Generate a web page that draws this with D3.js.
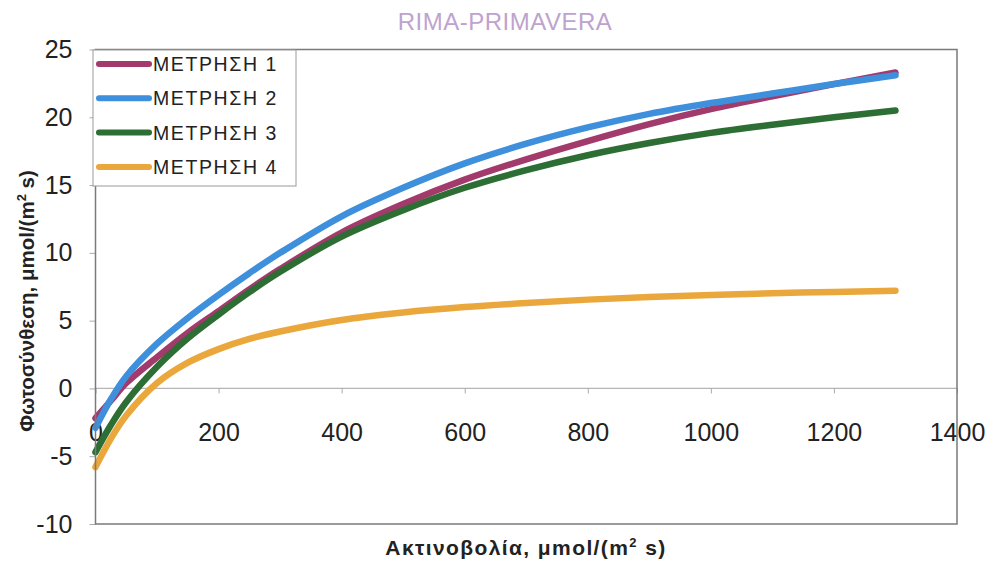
<!DOCTYPE html>
<html><head><meta charset="utf-8">
<script src="https://cdn.jsdelivr.net/npm/d3@7"></script>
<style>body{margin:0;background:#fff;} svg{display:block;font-family:"Liberation Sans",Arial,sans-serif;}</style>
</head><body>
<svg id="chart" width="992" height="562"></svg>
<script>
const xValues = [0, 25, 50, 100, 150, 200, 250, 300, 400, 500, 600, 700, 800, 900, 1000, 1100, 1200, 1300];
const seriesNames = ["ΜΕΤΡΗΣΗ 1", "ΜΕΤΡΗΣΗ 2", "ΜΕΤΡΗΣΗ 3", "ΜΕΤΡΗΣΗ 4"];
const metrisi1 = [-2.2, -0.9, 0.4, 2.3, 4.1, 5.7, 7.3, 8.8, 11.5, 13.6, 15.4, 16.9, 18.25, 19.5, 20.6, 21.55, 22.45, 23.3];
const metrisi2 = [-2.9, -0.8, 0.9, 3.3, 5.2, 6.9, 8.5, 10.0, 12.7, 14.8, 16.6, 18.05, 19.25, 20.25, 21.05, 21.75, 22.45, 23.1];
const metrisi3 = [-4.7, -2.7, -1.0, 1.6, 3.7, 5.45, 7.1, 8.6, 11.2, 13.15, 14.8, 16.1, 17.2, 18.1, 18.85, 19.45, 20.0, 20.5];
const metrisi4 = [-5.8, -3.7, -2.0, 0.4, 1.9, 2.9, 3.65, 4.2, 5.05, 5.6, 6.0, 6.3, 6.55, 6.75, 6.9, 7.02, 7.12, 7.2];
const seriesColors = ["#a23a6c", "#3e8fdc", "#2d6e35", "#eaa73c"];
const xTicks = [0, 200, 400, 600, 800, 1000, 1200, 1400];
const yTicks = [-10, -5, 0, 5, 10, 15, 20, 25];
const chartTitle = "RIMA-PRIMAVERA";

const allSeries = [metrisi1, metrisi2, metrisi3, metrisi4];
const svg = d3.select("#chart");
const L = 95.5, R = 957, T = 49.5, B = 524;
const x = d3.scaleLinear().domain([0, 1400]).range([L, R]);
const y = d3.scaleLinear().domain([-10, 25]).range([B, T]);
const fmt = d => String(d);

// title
svg.append("text").attr("x", 505).attr("y", 30).attr("text-anchor", "middle")
  .attr("font-size", 24).attr("fill", "#bea3cf").attr("letter-spacing", 0.5).text(chartTitle);

// zero line
svg.append("line").attr("x1", L).attr("x2", R).attr("y1", y(0)).attr("y2", y(0))
  .attr("stroke", "#b5b5b5").attr("stroke-width", 1.2);

// y axis
const ya = svg.append("g").attr("transform", `translate(${L},0)`)
  .call(d3.axisLeft(y).tickValues(yTicks).tickSize(6).tickPadding(17).tickFormat(fmt));
ya.select(".domain").remove();
ya.selectAll(".tick line").attr("stroke", "#aaa");
ya.selectAll(".tick text").attr("font-size", 25).attr("fill", "#222").attr("font-family", "Liberation Sans, Arial, sans-serif");

// x axis on zero line
const xa = svg.append("g").attr("transform", `translate(0,${y(0)})`)
  .call(d3.axisBottom(x).tickValues(xTicks).tickSize(5).tickPadding(30).tickFormat(fmt));
xa.select(".domain").remove();
xa.selectAll(".tick line").attr("stroke", "#aaa");
xa.selectAll(".tick text").attr("font-size", 25).attr("fill", "#222").attr("font-family", "Liberation Sans, Arial, sans-serif");

// series
const line = d3.line().x((d, i) => x(xValues[i])).y(d => y(d)).curve(d3.curveCatmullRom.alpha(0.5));
allSeries.forEach((s, i) => {
  svg.append("path").datum(s).attr("d", line).attr("fill", "none")
    .attr("stroke", seriesColors[i]).attr("stroke-width", 6.5).attr("stroke-linecap", "round").attr("stroke-linejoin", "round");
});

// frame
svg.append("rect").attr("x", L).attr("y", T).attr("width", R - L).attr("height", B - T)
  .attr("fill", "none").attr("stroke", "#7a7a7a").attr("stroke-width", 1.5);

// legend
const lg = svg.append("g");
lg.append("rect").attr("x", 93).attr("y", 50).attr("width", 203).attr("height", 136)
  .attr("fill", "#fff").attr("stroke", "#9a9a9a").attr("stroke-width", 1);
seriesNames.forEach((n, i) => {
  const yy = 64 + i * 34.3;
  lg.append("line").attr("x1", 99).attr("x2", 149).attr("y1", yy).attr("y2", yy)
    .attr("stroke", seriesColors[i]).attr("stroke-width", 6).attr("stroke-linecap", "round");
  lg.append("text").attr("x", 153).attr("y", yy).attr("dy", "0.36em").attr("font-size", 19.5)
    .attr("letter-spacing", 1.6).attr("fill", "#222").text(n);
});

// axis titles
const xt = svg.append("text").attr("x", 526).attr("y", 555).attr("text-anchor", "middle")
  .attr("font-size", 21).attr("font-weight", "bold").attr("letter-spacing", 1.4).attr("fill", "#222");
xt.append("tspan").text("Ακτινοβολία, μmol/(m");
xt.append("tspan").attr("font-size", 13).attr("dy", -8).text("2");
xt.append("tspan").attr("dy", 8).text(" s)");

const yt = svg.append("text").attr("transform", "translate(34,301) rotate(-90)").attr("text-anchor", "middle")
  .attr("font-size", 20.5).attr("font-weight", "bold").attr("fill", "#222");
yt.append("tspan").text("Φωτοσύνθεση, μmol/(m");
yt.append("tspan").attr("font-size", 13).attr("dy", -8).text("2");
yt.append("tspan").attr("dy", 8).text(" s)");
</script>
</body></html>
